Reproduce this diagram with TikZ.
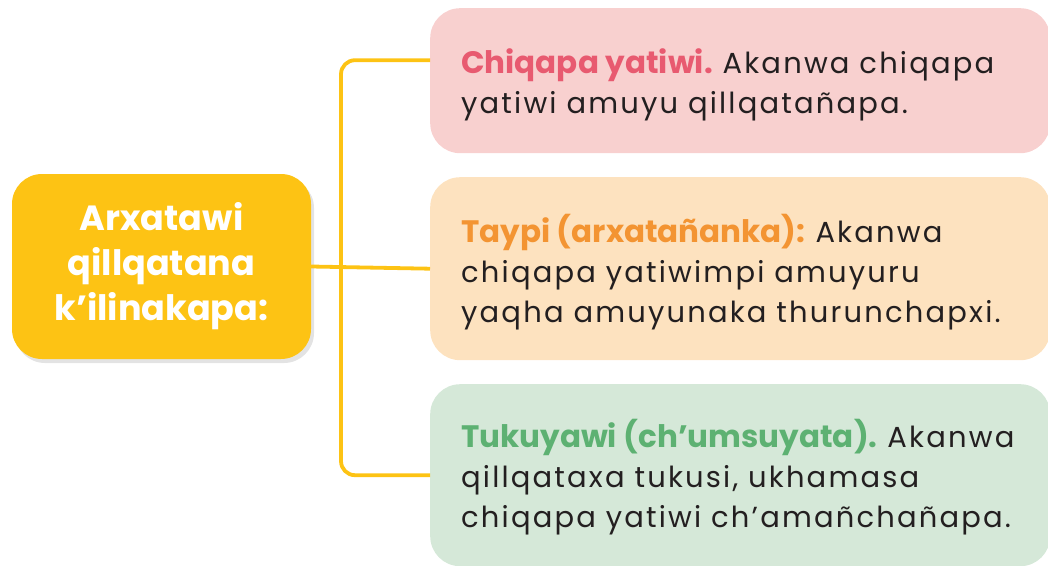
\documentclass[tikz,border=0pt]{standalone}
\usepackage{fontspec}
\setmainfont{Poppins}
\newfontfamily\bodyfont[LetterSpace=7.5]{Poppins}
\usetikzlibrary{shadows}
\definecolor{ylw}{HTML}{FDC314}
\definecolor{pinkbg}{HTML}{F8D0CF}
\definecolor{pinktx}{HTML}{E85A70}
\definecolor{peachbg}{HTML}{FDE2BF}
\definecolor{orangetx}{HTML}{F39432}
\definecolor{greenbg}{HTML}{D5E8D8}
\definecolor{greentx}{HTML}{5DB172}
\definecolor{ink}{HTML}{231F20}
\newcommand{\headtx}[2]{{\rmfamily\bfseries\fontsize{31}{40}\selectfont\color{#1}#2}}
\begin{document}
\begin{tikzpicture}[x=1pt,y=-1pt,
  link/.style={draw=ylw, line width=3.8pt, rounded corners=14pt},
  mainbox/.style={fill=ylw, rounded corners=30pt, minimum width=299pt, minimum height=185pt,
    align=center, text=white, font=\fontsize{35}{45}\selectfont\bfseries,
    drop shadow={opacity=0.22, shadow xshift=3pt, shadow yshift=-4pt}},
  infobox/.style={rounded corners=30pt, anchor=north west, minimum width=620pt, inner sep=0pt},
  txt/.style={anchor=west, align=left, inner sep=0pt, text=ink,
    font=\bodyfont\fontsize{29}{40}\selectfont\frenchspacing}
]
\useasboundingbox (0,0) rectangle (1048,565);
\node[mainbox] (main) at (161.5,266.5) {Arxatawi\\qillqatana\\k’ilinakapa:};
\node[infobox, fill=pinkbg, minimum height=145pt] (b1) at (430,8) {};
\node[infobox, fill=peachbg, minimum height=183pt] (b2) at (430,177) {};
\node[infobox, fill=greenbg, minimum height=182pt] (b3) at (430,384) {};
\node[txt] (t1) at ([xshift=31pt,yshift=-4pt]b1.west)
  {\headtx{pinktx}{Chiqapa yatiwi.} Akanwa chiqapa\\yatiwi amuyu qillqatañapa.};
\node[txt] (t2) at ([xshift=31pt,yshift=-3pt]b2.west)
  {\headtx{orangetx}{Taypi (arxatañanka):} Akanwa\\chiqapa yatiwimpi amuyuru\\yaqha amuyunaka thurunchapxi.};
\node[txt] (t3) at ([xshift=31pt,yshift=-2pt]b3.west)
  {\headtx{greentx}{Tukuyawi (ch’umsuyata).} Akanwa\\qillqataxa tukusi, ukhamasa\\chiqapa yatiwi ch’amañchañapa.};
\coordinate (j) at (341,267);
\draw[link] (main.east) -- (b2.west);
\draw[link] ([yshift=20.5pt]b1.west) -| (j) |- (b3.west);
\end{tikzpicture}
\end{document}
